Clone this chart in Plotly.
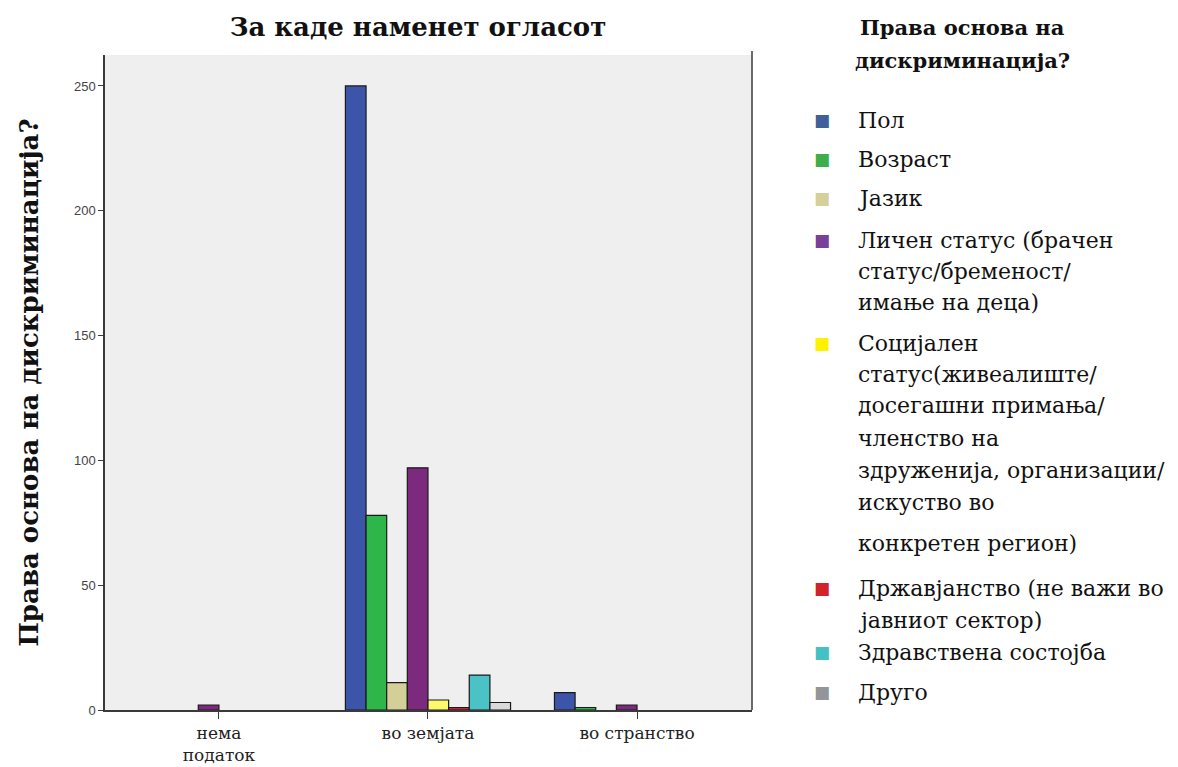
import plotly.graph_objects as go

# categories on the x axis
places = ["нема<br>податок", "во земјата", "во странство"]

# one list per reason for discrimination (counts per place, None = no bar)
pol = [None, 250, 7]
vozrast = [None, 78, 1]
jazik = [None, 11, None]
licen_status = [2, 97, 2]
socijalen_status = [None, 4, None]
drzavjanstvo = [None, 1, None]
zdravstvena = [None, 14, None]
drugo = [None, 3, None]

series_names = [
    "Пол",
    "Возраст",
    "Јазик",
    "Личен статус (брачен<br>статус/бременост/<br>имање на деца)",
    "Социјален<br>статус(живеалиште/<br>досегашни примања/<br>членство на<br>здруженија, организации/<br>искуство во<br>конкретен регион)",
    "Државјанство (не важи во<br>јавниот сектор)",
    "Здравствена состојба",
    "Друго",
]
series_values = [pol, vozrast, jazik, licen_status, socijalen_status, drzavjanstvo, zdravstvena, drugo]

bar_colors = ["#3D55A8", "#2FB64A", "#D4CF98", "#7B2A7D", "#FCFA6C", "#C0272D", "#4AC2C6", "#D9D9D9"]
legend_colors = ["#41609A", "#3FAE4A", "#D5D09A", "#7A3F96", "#FFF200", "#D2232A", "#45C1C3", "#939598"]

OFF = 8  # page body margin
W, H = 1178 - OFF, 767 - OFF
PL, PR, PT, PB = 105, 752, 55, 710  # plot area in page pixels


def px_x(x):
    return (x - PL) / (PR - PL)


def px_y(y):
    return (PB - y) / (PB - PT)


fig = go.Figure()
for name, vals, col in zip(series_names, series_values, bar_colors):
    fig.add_trace(
        go.Bar(
            x=places,
            y=vals,
            name=name.replace("<br>", " "),
            marker=dict(color=col, line=dict(color="#1a1a1a", width=1.2)),
            showlegend=False,
        )
    )

# hand-made legend (SPSS style, text wraps with uneven spacing)
legend_line_y = [
    [120],
    [159],
    [198],
    [240, 271, 302],
    [343, 374, 405, 438, 470, 502, 543],
    [588, 620],
    [652],
    [692],
]
annotations = []
for name, col, ys in zip(series_names, legend_colors, legend_line_y):
    annotations.append(
        dict(
            x=px_x(822), y=px_y(ys[0]), xref="paper", yref="paper",
            text="■", showarrow=False, xanchor="center", yanchor="middle",
            font=dict(family="DejaVu Sans", size=17, color=col),
        )
    )
    for line, y in zip(name.split("<br>"), ys):
        annotations.append(
            dict(
                x=px_x(856), y=px_y(y), xref="paper", yref="paper",
                text=line, showarrow=False, xanchor="left", yanchor="middle",
                font=dict(family="DejaVu Serif", size=22, color="#111"),
            )
        )

for txt, y in [("Права основа на", 28), ("дискриминација?", 60)]:
    annotations.append(
        dict(
            x=px_x(962), y=px_y(y), xref="paper", yref="paper",
            text=f"<b>{txt}</b>", showarrow=False, xanchor="center", yanchor="middle",
            font=dict(family="DejaVu Serif", size=21, color="#111"),
        )
    )

fig.update_layout(
    width=W,
    height=H,
    margin=dict(l=PL - OFF, r=W - (PR - OFF), t=PT - OFF, b=H - (PB - OFF), pad=0),
    paper_bgcolor="white",
    plot_bgcolor="#EFEFEF",
    barmode="group",
    bargap=0.21,
    bargroupgap=0,
    title=dict(
        text="<b>За каде наменет огласот</b>",
        x=px_x(418), xref="paper", xanchor="center",
        y=1 - (27 - OFF) / H, yanchor="middle",
        font=dict(family="DejaVu Serif", size=26, color="#111"),
    ),
    annotations=annotations,
    shapes=[
        dict(type="line", xref="paper", yref="paper", x0=1, x1=1, y0=0, y1=1.006,
             line=dict(color="#3a3a3a", width=1.5)),
    ],
)

fig.update_xaxes(
    range=[-0.545, 2.55],
    automargin=False,
    showline=True, linecolor="#3a3a3a", linewidth=1.5,
    ticks="outside", ticklen=7, tickcolor="#3a3a3a",
    tickfont=dict(family="DejaVu Serif", size=17, color="#222"),
    showgrid=False, zeroline=False,
)
fig.update_yaxes(
    range=[0, 262.4],
    automargin=False,
    tickvals=[0, 50, 100, 150, 200, 250],
    showline=True, linecolor="#3a3a3a", linewidth=1.5,
    ticks="outside", ticklen=5, tickcolor="#3a3a3a",
    tickfont=dict(family="Liberation Sans", size=13, color="#444"),
    showgrid=False, zeroline=False,
    title=dict(
        text="<b>Права основа на дискриминација?</b>",
        font=dict(family="DejaVu Serif", size=26, color="#111"),
        standoff=28,
    ),
)

fig.write_html("out.html")
